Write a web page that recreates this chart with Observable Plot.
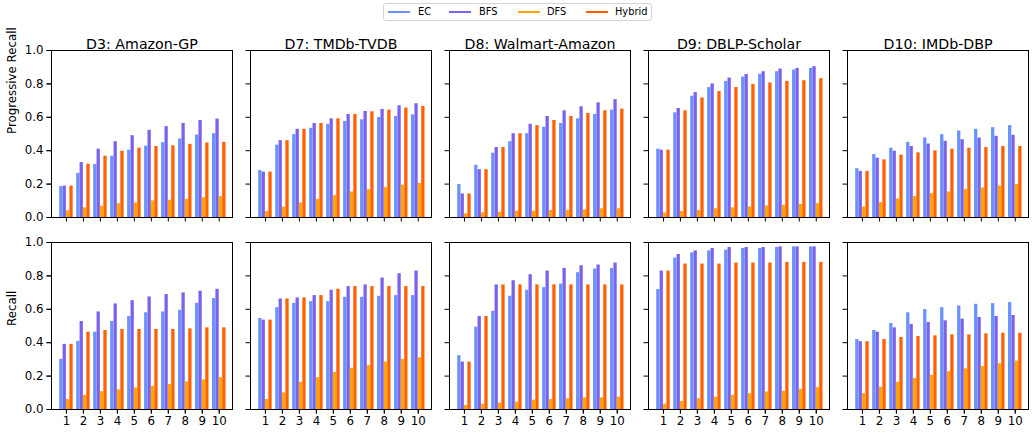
<!DOCTYPE html>
<html>
<head>
<meta charset="utf-8">
<script src="https://cdn.jsdelivr.net/npm/d3@7"></script>
<script src="https://cdn.jsdelivr.net/npm/@observablehq/plot@0.6"></script>
<style>
  body { margin: 0; background: #fff; font-family: "DejaVu Sans", sans-serif; }
  #wrap { position: relative; width: 1032px; height: 435px; }
  #legend { position: relative; width: 1032px; height: 24px; }
  #legend .box { position: absolute; left: 383px; top: 3px; width: 269px; height: 18px; box-sizing: border-box;
    border: 1px solid #d4d4d4; border-radius: 3px; background: #fff; }
  #legend .sw { position: absolute; top: 7px; width: 22px; height: 2px; }
  #legend .lb { position: absolute; top: 0; line-height: 16px; font-size: 9.8px; color: #000; }
  svg { display: block; }
</style>
</head>
<body>
<div id="wrap">
  <div id="legend"><div class="box" id="lbox"></div></div>
  <div id="chart"></div>
</div>
<script>
// ---- Categories ----
const datasets = ["D3: Amazon-GP", "D7: TMDb-TVDB", "D8: Walmart-Amazon", "D9: DBLP-Scholar", "D10: IMDb-DBP"];
const metrics = ["Progressive Recall", "Recall"];
const methods = ["EC", "BFS", "DFS", "Hybrid"];
const methodColors = ["#6a93ff", "#7b62ee", "#ffa500", "#ff6100"];
const steps = [1, 2, 3, 4, 5, 6, 7, 8, 9, 10];
const yTicks = [0, 0.2, 0.4, 0.6, 0.8, 1.0];

// ---- Progressive Recall ----
const d3PrEC     = [0.185, 0.264, 0.317, 0.367, 0.403, 0.427, 0.448, 0.470, 0.494, 0.502];
const d3PrBFS    = [0.188, 0.329, 0.409, 0.454, 0.490, 0.522, 0.544, 0.563, 0.581, 0.589];
const d3PrDFS    = [0.040, 0.058, 0.067, 0.083, 0.087, 0.099, 0.103, 0.109, 0.119, 0.125];
const d3PrHybrid = [0.188, 0.319, 0.367, 0.397, 0.415, 0.425, 0.429, 0.438, 0.446, 0.450];

const d7PrEC     = [0.282, 0.433, 0.496, 0.534, 0.558, 0.575, 0.585, 0.599, 0.605, 0.615];
const d7PrBFS    = [0.272, 0.460, 0.528, 0.563, 0.591, 0.617, 0.635, 0.647, 0.669, 0.681];
const d7PrDFS    = [0.036, 0.062, 0.087, 0.109, 0.131, 0.153, 0.167, 0.179, 0.194, 0.204];
const d7PrHybrid = [0.272, 0.460, 0.528, 0.563, 0.591, 0.617, 0.633, 0.643, 0.655, 0.665];

const d8PrEC     = [0.198, 0.313, 0.385, 0.454, 0.502, 0.540, 0.563, 0.591, 0.617, 0.643];
const d8PrBFS    = [0.141, 0.286, 0.419, 0.502, 0.558, 0.605, 0.639, 0.663, 0.687, 0.706];
const d8PrDFS    = [0.022, 0.028, 0.032, 0.038, 0.038, 0.042, 0.042, 0.046, 0.052, 0.052];
const d8PrHybrid = [0.141, 0.286, 0.419, 0.502, 0.550, 0.581, 0.605, 0.623, 0.639, 0.649];

const d9PrEC     = [0.409, 0.627, 0.726, 0.778, 0.815, 0.841, 0.857, 0.873, 0.883, 0.893];
const d9PrBFS    = [0.403, 0.653, 0.748, 0.800, 0.835, 0.857, 0.873, 0.889, 0.893, 0.903];
const d9PrDFS    = [0.028, 0.036, 0.042, 0.052, 0.058, 0.063, 0.069, 0.073, 0.079, 0.083];
const d9PrHybrid = [0.403, 0.639, 0.716, 0.754, 0.778, 0.796, 0.806, 0.815, 0.819, 0.831];

const d10PrEC     = [0.292, 0.377, 0.415, 0.450, 0.476, 0.496, 0.518, 0.528, 0.538, 0.550];
const d10PrBFS    = [0.276, 0.355, 0.397, 0.425, 0.440, 0.456, 0.466, 0.476, 0.486, 0.492];
const d10PrDFS    = [0.063, 0.089, 0.111, 0.125, 0.143, 0.153, 0.167, 0.177, 0.188, 0.198];
const d10PrHybrid = [0.276, 0.345, 0.373, 0.387, 0.399, 0.409, 0.415, 0.419, 0.425, 0.425];

// ---- Recall ----
const d3RcEC     = [0.300, 0.408, 0.463, 0.527, 0.557, 0.579, 0.584, 0.594, 0.636, 0.664];
const d3RcBFS    = [0.390, 0.527, 0.584, 0.632, 0.652, 0.674, 0.688, 0.698, 0.708, 0.720];
const d3RcDFS    = [0.060, 0.085, 0.107, 0.117, 0.129, 0.139, 0.149, 0.165, 0.177, 0.191];
const d3RcHybrid = [0.390, 0.463, 0.473, 0.479, 0.479, 0.479, 0.479, 0.483, 0.489, 0.489];

const d7RcEC     = [0.545, 0.610, 0.636, 0.646, 0.646, 0.672, 0.672, 0.678, 0.682, 0.682];
const d7RcBFS    = [0.535, 0.662, 0.668, 0.682, 0.714, 0.736, 0.746, 0.787, 0.813, 0.829];
const d7RcDFS    = [0.060, 0.099, 0.163, 0.191, 0.223, 0.247, 0.264, 0.284, 0.300, 0.310];
const d7RcHybrid = [0.535, 0.662, 0.668, 0.682, 0.720, 0.736, 0.736, 0.736, 0.736, 0.736];

const d8RcEC     = [0.322, 0.493, 0.588, 0.678, 0.714, 0.730, 0.751, 0.819, 0.841, 0.845];
const d8RcBFS    = [0.284, 0.557, 0.746, 0.771, 0.807, 0.829, 0.845, 0.861, 0.865, 0.877];
const d8RcDFS    = [0.024, 0.032, 0.038, 0.044, 0.056, 0.060, 0.064, 0.070, 0.070, 0.074];
const d8RcHybrid = [0.284, 0.557, 0.746, 0.746, 0.746, 0.746, 0.746, 0.746, 0.746, 0.746];

const d9RcEC     = [0.718, 0.907, 0.938, 0.950, 0.954, 0.964, 0.964, 0.970, 0.974, 0.974];
const d9RcBFS    = [0.829, 0.928, 0.950, 0.964, 0.970, 0.970, 0.970, 0.974, 0.974, 0.974];
const d9RcDFS    = [0.032, 0.048, 0.064, 0.074, 0.085, 0.095, 0.105, 0.109, 0.121, 0.131];
const d9RcHybrid = [0.829, 0.871, 0.871, 0.871, 0.877, 0.877, 0.877, 0.881, 0.881, 0.881];

const d10RcEC     = [0.419, 0.473, 0.515, 0.579, 0.598, 0.610, 0.620, 0.630, 0.634, 0.640];
const d10RcBFS    = [0.406, 0.463, 0.489, 0.509, 0.521, 0.531, 0.541, 0.551, 0.557, 0.563];
const d10RcDFS    = [0.095, 0.133, 0.163, 0.185, 0.205, 0.227, 0.243, 0.258, 0.274, 0.290];
const d10RcHybrid = [0.406, 0.419, 0.431, 0.437, 0.441, 0.447, 0.447, 0.453, 0.457, 0.457];

// ---- assemble a tidy table ----
const panels = [
  [0, 0, [d3PrEC, d3PrBFS, d3PrDFS, d3PrHybrid]],
  [1, 0, [d7PrEC, d7PrBFS, d7PrDFS, d7PrHybrid]],
  [2, 0, [d8PrEC, d8PrBFS, d8PrDFS, d8PrHybrid]],
  [3, 0, [d9PrEC, d9PrBFS, d9PrDFS, d9PrHybrid]],
  [4, 0, [d10PrEC, d10PrBFS, d10PrDFS, d10PrHybrid]],
  [0, 1, [d3RcEC, d3RcBFS, d3RcDFS, d3RcHybrid]],
  [1, 1, [d7RcEC, d7RcBFS, d7RcDFS, d7RcHybrid]],
  [2, 1, [d8RcEC, d8RcBFS, d8RcDFS, d8RcHybrid]],
  [3, 1, [d9RcEC, d9RcBFS, d9RcDFS, d9RcHybrid]],
  [4, 1, [d10RcEC, d10RcBFS, d10RcDFS, d10RcHybrid]]
];
const rows = [];
for (const [di, mi, series] of panels) {
  series.forEach((arr, k) => {
    arr.forEach((v, i) => rows.push({dataset: datasets[di], metric: metrics[mi], method: methods[k], mk: k, step: steps[i], value: v}));
  });
}

const offsets = [-0.3, -0.1, 0.1, 0.3];
const halfW = 0.097;

const chart = Plot.plot({
  width: 1032,
  height: 411,
  marginTop: 26,
  marginBottom: 25,
  marginLeft: 49,
  marginRight: 2,
  style: {fontFamily: "DejaVu Sans", fontSize: "11.8px", color: "#000", background: "#fff"},
  x: {domain: [0.12, 10.78], axis: null},
  y: {domain: [0, 1], axis: null},
  fx: {domain: datasets, axis: null, paddingInner: 0.092, paddingOuter: 0},
  fy: {domain: metrics, axis: null, paddingInner: 0.13, paddingOuter: 0},
  color: {domain: methods, range: methodColors},
  marks: [
    Plot.rectY(rows, {
      fx: "dataset", fy: "metric",
      x1: d => d.step + offsets[d.mk] - halfW,
      x2: d => d.step + offsets[d.mk] + halfW,
      y: "value",
      fill: "method"
    }),
    Plot.frame({stroke: "#000", strokeWidth: 1}),
    Plot.axisY({ticks: yTicks, tickFormat: d => d.toFixed(1), tickSize: 4.5, tickPadding: 3.5, label: null, fontSize: 11.8}),
    Plot.axisY({ticks: yTicks, tickFormat: () => "", tickSize: 4.5, label: null, facetAnchor: null}),
    Plot.axisX({ticks: steps, tickFormat: d => String(d), tickSize: 4.5, tickPadding: 3, label: null, fontSize: 11.8}),
    Plot.axisX({ticks: steps, tickFormat: () => "", tickSize: 4.5, label: null, facetAnchor: null}),
    Plot.text(datasets, {fx: d => d, fy: () => metrics[0], text: d => d, frameAnchor: "top", dy: -12, fontSize: 14.2}),
    Plot.text(metrics, {fx: () => datasets[0], fy: d => d, text: d => d, frameAnchor: "left", rotate: -90, dx: -39, fontSize: 11.8})
  ]
});
document.getElementById("chart").appendChild(chart);

// ---- legend (HTML, above the SVG) ----
const lbox = document.getElementById("lbox");
const swLeft = [4, 65, 134, 202];
const lbLeft = [34, 95, 163, 231];
methods.forEach((m, i) => {
  const s = document.createElement("div");
  s.className = "sw"; s.style.left = swLeft[i] + "px"; s.style.background = methodColors[i];
  lbox.appendChild(s);
  const t = document.createElement("div");
  t.className = "lb"; t.style.left = lbLeft[i] + "px"; t.textContent = m;
  lbox.appendChild(t);
});
</script>
</body>
</html>
